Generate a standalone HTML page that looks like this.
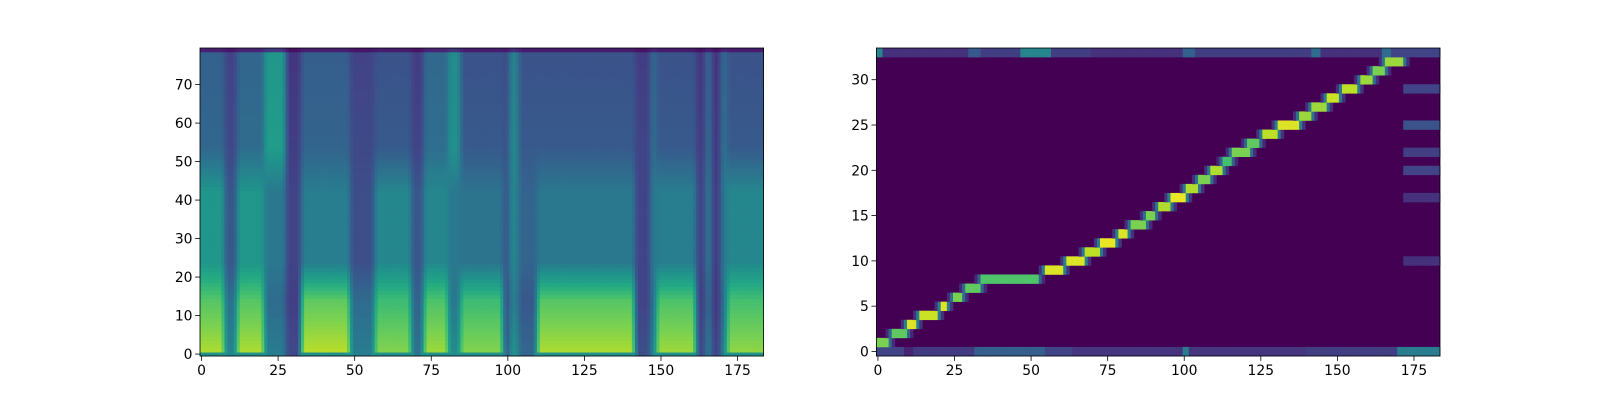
<!DOCTYPE html>
<html><head><meta charset="utf-8">
<style>
html,body{margin:0;padding:0;background:#fff;}
svg{display:block;}
text{font-family:"DejaVu Sans","Liberation Sans",sans-serif;font-size:13.9px;fill:#000;}
</style></head>
<body>
<svg id="fig" width="1600" height="400" viewBox="0 0 1600 400" xmlns="http://www.w3.org/2000/svg">
  <g id="left"></g>
  <g id="right"></g>
</svg>
<script>
// ---- Spectrogram data: segments [startFrame, endFrame], band intensities (0..1)
const specStarts = [0,8,12,21,28,33,49,57,69,73,81,85,99,101,104,110,142,147,149,162,165,167,170,172];
const specEnds   = [8,12,21,28,33,49,57,69,73,81,85,99,101,104,110,142,147,149,162,165,167,170,172,184];
const specLow    = [0.88,0.45,0.88,0.42,0.22,0.9,0.42,0.82,0.38,0.86,0.48,0.82,0.28,0.5,0.33,0.88,0.24,0.45,0.86,0.22,0.42,0.2,0.45,0.84];
const specMid    = [0.52,0.27,0.52,0.4,0.2,0.42,0.24,0.46,0.27,0.46,0.4,0.38,0.27,0.45,0.32,0.4,0.2,0.4,0.42,0.2,0.4,0.18,0.4,0.46];
const specHigh   = [0.33,0.22,0.35,0.55,0.18,0.32,0.22,0.28,0.2,0.36,0.5,0.28,0.25,0.46,0.28,0.28,0.2,0.36,0.28,0.18,0.36,0.17,0.38,0.28];
const nFrames = 184, nMels = 80;
const leftYTicks = [0,10,20,30,40,50,60,70];
const xTicks = [0,25,50,75,100,125,150,175];

// ---- Alignment data: per encoder row (1..32) start/end frames and peak value
const alignRows   = [1,2,3,4,5,6,7,8,9,10,11,12,13,14,15,16,17,18,19,20,21,22,23,24,25,26,27,28,29,30,31,32];
const alignStart  = [0,5,10,14,21,25,29,34,55,62,68,73,79,83,88,92,96,101,105,109,113,116,121,126,131,138,142,147,152,158,162,166];
const alignEnd    = [3,9,12,19,22,27,33,52,60,67,72,77,81,87,90,95,100,104,108,112,115,121,124,130,137,141,146,150,156,161,165,171];
const alignPeak   = [0.8,0.75,0.95,0.92,0.95,0.8,0.75,0.72,0.95,0.95,0.9,0.97,0.95,0.8,0.8,0.88,0.97,0.88,0.8,0.88,0.7,0.8,0.75,0.9,0.95,0.85,0.85,0.92,0.9,0.85,0.8,0.85];
const row0Seg     = [[0,9,0.2],[9,12,0.1],[12,32,0.17],[32,55,0.3],[55,64,0.2],[64,100,0.15],[100,102,0.42],[102,140,0.15],[140,170,0.18],[170,184,0.42]];
const row33Seg    = [[0,2,0.45],[2,30,0.14],[30,34,0.28],[34,47,0.18],[47,57,0.45],[57,70,0.18],[70,100,0.14],[100,104,0.3],[104,142,0.18],[142,145,0.35],[145,165,0.14],[165,168,0.35],[168,184,0.2]];
const tailRows    = [29,25,22,20,17,10];
const tailVals    = [0.2,0.25,0.18,0.2,0.14,0.14];
const rightYTicks = [0,5,10,15,20,25,30];
const nRows = 34;

// ---- viridis
const VIR=[[68,1,84],[72,36,117],[65,68,135],[53,95,141],[42,120,142],[33,145,140],[34,168,132],[68,191,112],[122,209,81],[189,223,38],[253,231,37]];
function vir(t){t=Math.max(0,Math.min(1,t));const p=t*(VIR.length-1),i=Math.min(VIR.length-2,Math.floor(p)),f=p-i;
 const a=VIR[i],b=VIR[i+1];return `rgb(${Math.round(a[0]+(b[0]-a[0])*f)},${Math.round(a[1]+(b[1]-a[1])*f)},${Math.round(a[2]+(b[2]-a[2])*f)})`;}

const NS="http://www.w3.org/2000/svg";
function mk(tag,attrs,parent){const e=document.createElementNS(NS,tag);for(const k in attrs)e.setAttribute(k,attrs[k]);parent.appendChild(e);return e;}

function drawAxes(g,x0,x1,y0,y1,xScale,yScale,xt,yt,prefix){
  for(const v of xt){const x=xScale(v);
    const l=mk('line',{x1:x,x2:x,y1:y1,y2:y1+4.9,stroke:'#000','stroke-width':0.8},g);
    
    const t=mk('text',{x:x,y:y1+19,'text-anchor':'middle'},g);t.textContent=v;
    }
  for(const v of yt){const y=yScale(v);
    const l=mk('line',{x1:x0-4.9,x2:x0,y1:y,y2:y,stroke:'#000','stroke-width':0.8},g);
    
    const t=mk('text',{x:x0-7.5,y:y+5,'text-anchor':'end'},g);t.textContent=v;
    }
  const r=mk('rect',{x:x0,y:y0,width:x1-x0,height:y1-y0,fill:'none',stroke:'#000','stroke-width':0.8},g);
  
}

const Y0=48,Y1=356;
// ---- Left panel
(function(){
  const g=document.getElementById('left');
  const X0=200,X1=763.6;
  const fw=(X1-X0)/nFrames, bh=(Y1-Y0)/nMels;
  const xS=v=>X0+(v+0.5)*fw, yS=v=>Y1-(v+0.5)*bh;
  const colLow=[],colMid=[],colHigh=[];
  for(let f=0;f<nFrames;f++){let s=0;for(let i=0;i<specStarts.length;i++){if(f>=specStarts[i]&&f<specEnds[i]){s=i;break;}}
    colLow.push(specLow[s]);colMid.push(specMid[s]);colHigh.push(specHigh[s]);}
  const sm=a=>a.map((v,i)=>{const p=a[Math.max(0,i-1)],n=a[Math.min(a.length-1,i+1)];return (p+2*v+n)/4;});
  const L=sm(colLow),M=sm(colMid),H=sm(colHigh);
  const cells=mk('g',{},g);
  for(let f=0;f<nFrames;f++){
    for(let b=0;b<nMels;b++){
      let v;
      const lowAt=k=>L[f]*(1-0.012*k);
      if(b<14)v=lowAt(b);
      else if(b<24){const t=(b-14)/10;v=lowAt(14)*(1-t)+M[f]*t;}
      else if(b<42)v=M[f];
      else if(b<54){const t=(b-42)/12;v=M[f]*(1-t)+H[f]*t;}
      else v=H[f]-(b-54)*0.001;
      if(b===0)v=Math.min(v,0.5);
      if(b===79)v*=0.3;
      const r=mk('rect',{x:(X0+f*fw).toFixed(2),y:(Y1-(b+1)*bh).toFixed(2),width:(fw+0.4).toFixed(2),height:(bh+0.4).toFixed(2),fill:vir(v)},cells);
      
      
    }
  }
  drawAxes(g,X0,X1,Y0,Y1,xS,yS,xTicks,leftYTicks,'spectrogram');
})();

// ---- Right panel
(function(){
  const g=document.getElementById('right');
  const X0=876.4,X1=1440;
  const fw=(X1-X0)/nFrames, rh=(Y1-Y0)/nRows;
  const xS=v=>X0+(v+0.5)*fw, yS=v=>Y1-(v+0.5)*rh;
  const grid=[];for(let r=0;r<nRows;r++){grid.push(new Array(nFrames).fill(0));}
  for(const s of row0Seg)for(let f=s[0];f<s[1];f++)grid[0][f]=s[2];
  for(const s of row33Seg)for(let f=s[0];f<s[1];f++)grid[33][f]=s[2];
  for(let i=0;i<alignRows.length;i++){const r=alignRows[i];
    for(let f=alignStart[i]-2;f<=alignEnd[i]+2;f++){if(f<0||f>=nFrames)continue;
      let v;
      if(f<alignStart[i])v=alignPeak[i]*(f===alignStart[i]-1?0.45:0.15);
      else if(f>alignEnd[i])v=alignPeak[i]*(f===alignEnd[i]+1?0.45:0.15);
      else v=alignPeak[i];
      grid[r][f]=Math.max(grid[r][f],v);}
  }
  for(let i=0;i<tailRows.length;i++)for(let f=172;f<nFrames;f++)grid[tailRows[i]][f]=Math.max(grid[tailRows[i]][f],tailVals[i]);
  const cells=mk('g',{},g);
  mk('rect',{x:X0,y:Y0,width:X1-X0,height:Y1-Y0,fill:vir(0)},cells);
  for(let r=0;r<nRows;r++)for(let f=0;f<nFrames;f++){const v=grid[r][f];if(v<=0)continue;
    const c=mk('rect',{x:(X0+f*fw).toFixed(2),y:(Y1-(r+1)*rh).toFixed(2),width:(fw+0.4).toFixed(2),height:(rh+0.3).toFixed(2),fill:vir(v)},cells);
    
    
  }
  drawAxes(g,X0,X1,Y0,Y1,xS,yS,xTicks,rightYTicks,'alignment');
})();
</script>
</body></html>
